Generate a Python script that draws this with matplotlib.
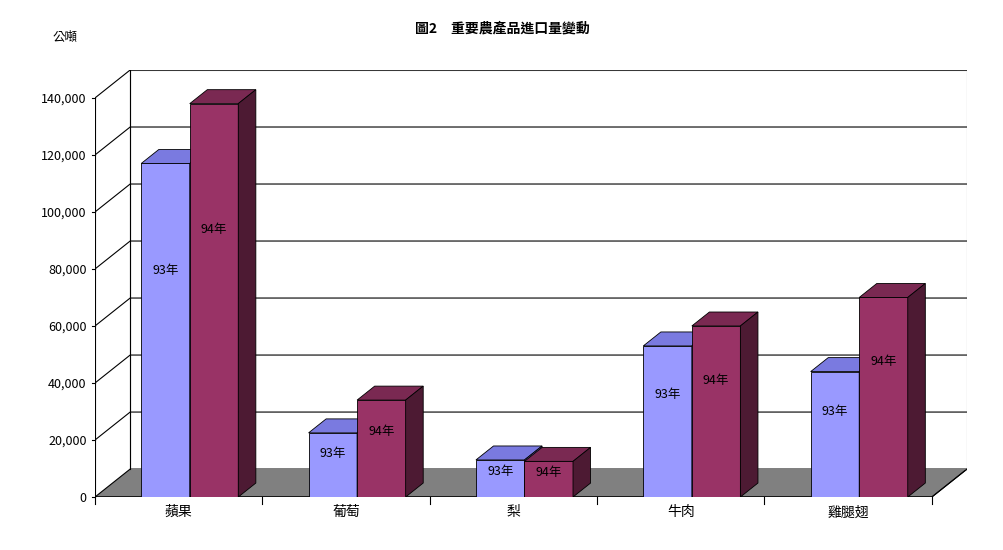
import matplotlib
matplotlib.use("Agg")
import matplotlib.pyplot as plt
from matplotlib.patches import Polygon

plt.rcParams['font.family'] = ['Noto Sans CJK TC', 'DejaVu Sans']

categories = ['蘋果', '葡萄', '梨', '牛肉', '雞腿翅']
v93 = [117000, 22500, 13000, 53000, 44000]
v94 = [138000, 34000, 12500, 60000, 70000]
yticks = [0, 20000, 40000, 60000, 80000, 100000, 120000, 140000]

DX, DY = 0.21, 9800   # depth offset in data units
W = 0.29

fig = plt.figure(figsize=(10.04, 5.5), dpi=100)
ax = fig.add_axes([95 / 1004, 53 / 550, 872 / 1004, 427 / 550])
x0, x1 = -0.5, 4.5
ax.set_xlim(x0, x1 + DX)
ax.set_ylim(0, 140000 + DY)
for s in ax.spines.values():
    s.set_visible(False)

# floor
ax.add_patch(Polygon([(x0, 0), (x1, 0), (x1 + DX, DY), (x0 + DX, DY)],
                     closed=True, fc='#808080', ec='black', lw=0.8, zorder=1))
# back wall + gridlines
ax.add_patch(Polygon([(x0 + DX, DY), (x1 + DX, DY), (x1 + DX, 140000 + DY), (x0 + DX, 140000 + DY)],
                     closed=True, fc='none', ec='#808080', lw=0.8, zorder=1))
for t in yticks[1:]:
    ax.plot([x0, x0 + DX, x1 + DX], [t, t + DY, t + DY], color='black', lw=0.8, zorder=1)
ax.plot([x0 + DX, x0 + DX], [DY, 140000 + DY], color='black', lw=0.8, zorder=1)
ax.plot([x0, x0], [0, 140000], color='black', lw=0.8, zorder=1)
ax.plot([x0, x1, x1 + DX], [0, 0, DY], color='black', lw=0.8, zorder=1)
for i in range(6):
    ax.plot([x0 + i, x0 + i], [0, -2500], color='black', lw=0.8, clip_on=False)
for t in yticks:
    ax.plot([x0 - 0.02, x0], [t, t], color='black', lw=0.8, clip_on=False)


def bar3d(xl, h, front, top, side, label):
    ax.add_patch(Polygon([(xl, 0), (xl + W, 0), (xl + W, h), (xl, h)], fc=front, ec='black', lw=0.6, zorder=3))
    ax.add_patch(Polygon([(xl, h), (xl + W, h), (xl + W + DX * 0.5, h + DY * 0.5), (xl + DX * 0.5, h + DY * 0.5)],
                         fc=top, ec='black', lw=0.6, zorder=3))
    ax.add_patch(Polygon([(xl + W, 0), (xl + W + DX * 0.5, DY * 0.5), (xl + W + DX * 0.5, h + DY * 0.5), (xl + W, h)],
                         fc=side, ec='black', lw=0.6, zorder=3))
    ax.text(xl + W / 2, max(h * 0.68, 8000), label, ha='center', va='center', fontsize=9, zorder=4)


for i in range(len(categories)):
    c = i + 0.066
    bar3d(c - W, v93[i], '#9999FF', '#7A7AE0', '#5C5CB0', '93年')
    bar3d(c, v94[i], '#993366', '#7A2952', '#4D1A33', '94年')

ax.set_xticks(range(len(categories)))
ax.set_xticklabels(categories, fontsize=10)
ax.set_yticks(yticks)
ax.set_yticklabels([f'{t:,}' for t in yticks], fontsize=9)
ax.tick_params(length=0, pad=6)
ax.text(-0.02, 1.07, '公噸', transform=ax.transAxes, ha='right', fontsize=9)
fig.text(0.5, 0.94, '圖2　重要農產品進口量變動', ha='center', fontsize=10, fontweight='bold')

fig.savefig('out.png', dpi=100)
